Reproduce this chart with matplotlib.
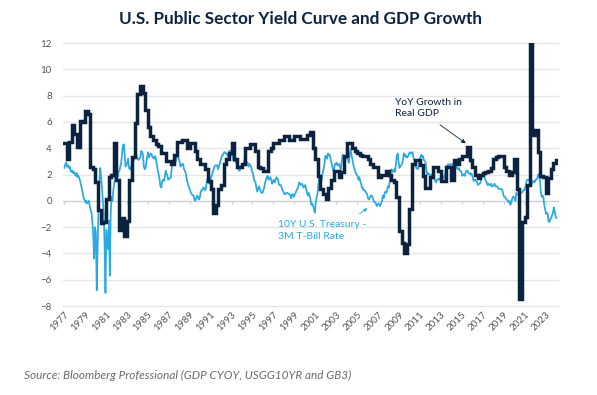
import numpy as np
import matplotlib
matplotlib.use("Agg")
import matplotlib.pyplot as plt

NAVY = "#0c2340"
SKY = "#29a9e1"
GRID = "#e6e6e6"

title = "U.S. Public Sector Yield Curve and GDP Growth"
source = "Source: Bloomberg Professional (GDP CYOY, USGG10YR and GB3)"
gdp_label = "YoY Growth in\nReal GDP"
spread_label = "10Y U.S. Treasury -\n3M T-Bill Rate"

# real GDP, % change year on year, quarterly, stamped at quarter end (first = Q4 1976)
gdp_start = 1977.0
gdp_yoy = [
    4.4, 3.2, 4.5, 5.8,   # 1977
    5.1, 4.1, 6.1, 6.0,   # 1978
    6.8, 6.6, 2.6, 2.4,   # 1979
    1.4, -0.7, -1.7, -1.6,
    0.1, 1.8, 2.0, 4.4,
    1.6, -2.2, -1.3, -2.7,
    -1.5, 1.6, 3.3, 5.9,
    8.1, 8.7, 8.2, 6.9,
    5.6, 4.9, 4.6, 4.3,   # 1985
    4.2, 3.6, 3.6, 3.0,
    3.0, 2.8, 3.5, 4.5,
    4.5, 4.6, 4.6, 4.0,
    4.4, 4.4, 3.8, 3.2,
    2.8, 2.8, 2.4, 1.5,   # 1990
    0.9, -0.9, -0.3, 0.9,
    1.2, 2.8, 3.2, 3.6,
    4.4, 3.2, 2.6, 2.6,
    2.8, 4.0, 4.0, 4.3,
    4.3, 3.8, 2.6, 2.5,   # 1995
    2.3, 2.3, 3.8, 4.0,
    4.4, 4.4, 4.6, 4.6,
    4.9, 4.9, 4.6, 4.6,
    4.9, 4.9, 4.7, 4.7,
    4.7, 5.0, 5.2, 4.0,   # 2000
    3.2, 1.9, 0.9, 0.5,
    0.1, 1.0, 1.6, 2.3,
    2.3, 1.8, 2.2, 3.4,
    4.4, 4.4, 4.0, 3.8,
    3.6, 3.5, 3.4, 3.4,   # 2005
    3.2, 2.8, 2.6, 2.6,
    1.8, 2.0, 2.0, 2.3,
    2.0, 1.6, 1.4, 0.3,
    -2.3, -3.2, -4.0, -3.3,
    -0.6, 2.8, 3.1, 3.1,  # 2010
    2.7, 1.9, 1.0, 1.0,
    1.8, 2.6, 2.6, 2.3,
    1.5, 1.5, 2.6, 2.6,
    1.6, 3.1, 2.8, 3.2,
    3.4, 3.4, 4.1, 3.1,   # 2015
    2.6, 2.0, 1.7, 2.0,
    2.1, 2.2, 2.3, 2.5,
    3.2, 3.3, 3.4, 3.4,
    2.6, 2.3, 2.0, 2.2,
    3.2, 0.9, -7.5, -1.6,  # 2020
    -1.2, 1.2, 12.0, 5.0,
    5.4, 3.7, 1.9, 1.8,
    0.6, 1.7, 2.4, 2.9,
    3.1,                   # 2024
]

# 10Y Treasury minus 3M T-bill, monthly, %
spread_start = 1977
spread = [
    2.5, 2.8, 2.9, 2.6, 2.7, 2.5, 2.6, 2.3, 2.2, 2.3, 2.1, 2.2,        # 1977
    2.0, 1.9, 2.1, 1.8, 1.9, 1.7, 1.5, 1.2, 0.9, 0.6, 0.2, 0.1,        # 1978
    -0.1, 0.0, -0.2, -0.1, 0.0, -0.4, -0.7, -0.9, -1.6, -2.7, -4.4, -2.0,
    -2.4, -6.8, -3.5, -0.7, 1.5, 2.5, 1.8, 1.0, 0.0, -1.0, -3.3, -7.0,  # 1980
    -2.2, -3.0, -3.7, -1.5, -5.7, -1.0, 0.3, 0.0, 0.8, 1.3, 1.7, 2.2,
    2.4, 1.8, 2.2, 2.3, 2.6, 2.9, 3.5, 4.2, 4.3, 3.6, 2.6, 2.7,
    2.9, 3.2, 2.5, 2.4, 2.6, 2.2, 2.6, 3.0, 3.2, 3.5, 3.6, 3.3,
    3.2, 3.1, 3.2, 3.3, 3.8, 3.7, 3.5, 2.6, 2.4, 2.5, 3.0, 3.4,
    3.7, 3.3, 3.5, 3.6, 3.5, 3.3, 3.3, 3.2, 3.4, 3.1, 2.7, 2.3,        # 1985
    2.0, 1.6, 1.1, 1.0, 1.5, 1.6, 1.5, 1.8, 2.3, 2.1, 1.9, 1.6,
    1.7, 1.7, 1.8, 2.5, 3.0, 2.8, 2.8, 2.9, 3.1, 3.4, 3.3, 3.2,
    3.0, 2.6, 2.7, 2.8, 2.8, 2.4, 2.3, 2.1, 1.7, 1.4, 1.2, 1.0,
    0.8, 0.6, 0.5, 0.4, 0.4, 0.1, 0.0, 0.2, 0.4, 0.3, 0.1, 0.2,
    0.6, 0.8, 0.8, 1.0, 1.0, 0.8, 0.9, 1.4, 1.7, 1.5, 1.3, 1.4,        # 1990
    1.8, 1.9, 2.2, 2.4, 2.6, 2.7, 2.7, 2.7, 2.4, 2.6, 2.8, 3.1,
    3.3, 3.5, 3.5, 3.7, 3.7, 3.6, 3.6, 3.4, 3.5, 3.8, 3.8, 3.5,
    3.6, 3.3, 3.0, 3.1, 3.0, 2.9, 2.7, 2.6, 2.3, 2.3, 2.6, 2.7,
    2.8, 2.7, 3.0, 3.3, 3.1, 2.9, 2.9, 2.6, 2.8, 2.7, 2.6, 2.2,
    2.1, 1.7, 1.5, 1.4, 1.0, 0.7, 0.9, 1.1, 0.9, 0.7, 0.6, 0.6,        # 1995
    0.8, 1.0, 1.4, 1.6, 1.8, 1.9, 1.6, 1.7, 1.8, 1.6, 1.3, 1.4,
    1.6, 1.4, 1.6, 1.8, 1.7, 1.6, 1.2, 1.2, 1.2, 1.0, 0.8, 0.7,
    0.5, 0.5, 0.6, 0.6, 0.6, 0.5, 0.5, 0.4, 0.2, 0.5, 0.5, 0.3,
    0.5, 0.6, 0.8, 0.9, 1.1, 1.4, 1.3, 1.2, 1.3, 1.2, 1.0, 1.1,
    1.2, 0.9, 0.6, 0.4, 0.6, 0.4, 0.1, -0.3, -0.2, -0.4, -0.6, -0.9,   # 2000
    -0.1, 0.2, 0.5, 1.2, 1.8, 1.8, 1.7, 1.6, 2.1, 2.4, 2.8, 3.4,
    3.4, 3.2, 3.6, 3.5, 3.5, 3.2, 2.9, 2.6, 2.3, 2.3, 2.8, 2.8,
    2.9, 2.7, 2.7, 2.8, 2.5, 2.4, 3.1, 3.5, 3.3, 3.4, 3.4, 3.4,
    3.2, 3.1, 2.9, 3.5, 3.9, 3.5, 3.2, 2.8, 2.5, 2.3, 2.1, 2.0,
    1.9, 1.6, 1.8, 1.5, 1.3, 1.0, 1.0, 0.8, 0.8, 0.7, 0.6, 0.5,        # 2005
    0.2, 0.1, 0.2, 0.4, 0.4, 0.3, 0.1, -0.1, -0.1, -0.2, -0.4, -0.3,
    -0.2, -0.3, -0.4, -0.2, 0.0, 0.4, 0.2, 0.6, 0.7, 0.6, 0.9, 1.1,
    1.0, 1.6, 2.3, 2.4, 2.2, 2.2, 2.4, 2.2, 2.8, 3.4, 3.6, 3.0,
    2.5, 2.6, 2.7, 2.8, 3.1, 3.6, 3.4, 3.5, 3.3, 3.3, 3.4, 3.6,
    3.7, 3.6, 3.6, 3.7, 3.3, 3.1, 2.8, 2.5, 2.5, 2.4, 2.7, 3.2,        # 2010
    3.3, 3.5, 3.3, 3.4, 3.1, 3.0, 2.9, 2.3, 2.0, 2.1, 2.0, 2.0,
    1.9, 1.9, 2.1, 2.0, 1.7, 1.5, 1.4, 1.6, 1.6, 1.7, 1.6, 1.7,
    1.8, 1.9, 1.9, 1.7, 1.9, 2.3, 2.5, 2.7, 2.8, 2.6, 2.7, 2.8,
    2.8, 2.7, 2.7, 2.7, 2.5, 2.6, 2.5, 2.4, 2.5, 2.3, 2.3, 2.2,
    1.9, 2.0, 2.0, 1.9, 2.2, 2.3, 2.3, 2.1, 2.1, 2.0, 2.1, 2.0,        # 2015
    1.8, 1.5, 1.6, 1.6, 1.5, 1.4, 1.2, 1.3, 1.3, 1.4, 1.7, 2.0,
    1.9, 1.9, 1.7, 1.5, 1.4, 1.2, 1.3, 1.2, 1.2, 1.3, 1.1, 1.1,
    1.2, 1.3, 1.1, 1.1, 1.1, 1.0, 0.9, 0.9, 0.9, 0.9, 0.8, 0.5,
    0.3, 0.3, 0.2, 0.1, 0.0, -0.1, 0.0, -0.3, -0.2, 0.1, 0.3, 0.3,
    0.2, 0.0, 0.6, 0.5, 0.5, 0.6, 0.5, 0.6, 0.6, 0.7, 0.8, 0.8,        # 2020
    1.0, 1.2, 1.6, 1.6, 1.6, 1.5, 1.3, 1.2, 1.3, 1.5, 1.5, 1.4,
    1.6, 1.6, 1.7, 2.0, 1.9, 1.7, 0.7, 0.3, 0.4, 0.3, -0.3, -0.6,
    -1.0, -0.9, -1.0, -1.6, -1.6, -1.4, -1.3, -1.1, -0.9, -0.5, -0.8, -1.2,
    -1.3,                                                               # 2024
]

x_ticks = list(range(1977, 2024, 2))
y_ticks = list(range(-8, 13, 2))

gdp_t = gdp_start + 0.25 * np.arange(len(gdp_yoy))
spread_t = spread_start + (np.arange(len(spread)) + 0.5) / 12

plt.rcParams["font.family"] = ["Lato", "DejaVu Sans"]

fig = plt.figure(figsize=(5.97, 3.95), dpi=100)
ax = fig.add_axes([0.1055, 0.2253, 0.829, 0.6658])

# grid
for yv in y_ticks:
    ax.axhline(yv, color="#c9d0d6" if yv == 0 else GRID, lw=1.0,
               zorder=1, clip_on=False)
ax.vlines(x_ticks, -0.25, 0, color="#c9d0d6", lw=0.8, zorder=1)

ax.plot(spread_t, spread, color=SKY, lw=1.25, zorder=2)
ax.step(gdp_t, gdp_yoy, where="post", color=NAVY, lw=2.5, zorder=3,
        solid_joinstyle="miter")

ax.set_xlim(1976.9, 2024.18)
ax.set_ylim(-8, 12)
ax.set_yticks(y_ticks)
ax.set_xticks(x_ticks)
ax.set_xticklabels([str(y) for y in x_ticks], rotation=45, ha="right",
                   rotation_mode="anchor")
ax.tick_params(axis="both", length=0, labelsize=7, colors="#555555")
ax.tick_params(axis="y", pad=8)
ax.tick_params(axis="x", pad=3)
for s in ax.spines.values():
    s.set_visible(False)

# annotations
ax.text(2008.6, 7.05, gdp_label, ha="left", va="center", fontsize=7.5,
        color=NAVY, linespacing=1.35)
ax.annotate("", xy=(2015.6, 4.25), xytext=(2012.7, 5.9),
            arrowprops=dict(arrowstyle="-|>", color=NAVY, lw=0.6,
                            mutation_scale=6))
ax.text(1997.4, -2.25, spread_label, ha="left", va="center", fontsize=7.5,
        color=SKY, linespacing=1.35)
ax.annotate("", xy=(2006.2, -0.45), xytext=(2005.0, -1.1),
            arrowprops=dict(arrowstyle="-|>", color=SKY, lw=0.6,
                            mutation_scale=5))

fig.text(0.503, 0.952, title, ha="center", va="center", fontsize=12.3,
         fontweight="bold", color=NAVY)
fig.text(0.04, 0.05, source, ha="left", va="center", fontsize=8.5,
         style="italic", color="#6b6b6b")

fig.savefig("out.png", dpi=100)
